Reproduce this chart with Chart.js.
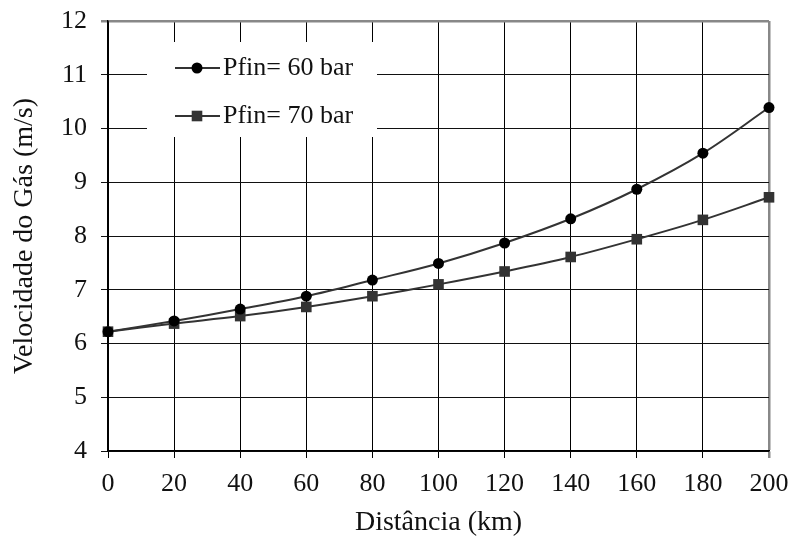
<!DOCTYPE html>
<html>
<head>
<meta charset="utf-8">
<script src="https://cdn.jsdelivr.net/npm/chart.js@4.4.1/dist/chart.umd.min.js"></script>
<style>
html,body{margin:0;padding:0;background:#fff;}
#wrap{width:793px;height:547px;position:relative;}
</style>
</head>
<body>
<div id="wrap"><canvas id="c" width="793" height="547"></canvas></div>
<script>
const distancias = [0, 20, 40, 60, 80, 100, 120, 140, 160, 180, 200];
const pfin60 = [6.22, 6.42, 6.64, 6.88, 7.18, 7.49, 7.87, 8.32, 8.87, 9.54, 10.39];
const pfin70 = [6.22, 6.37, 6.51, 6.68, 6.88, 7.10, 7.34, 7.61, 7.94, 8.30, 8.72];
const serieLabels = ['Pfin= 60 bar', 'Pfin= 70 bar'];
const xTitle = 'Distância (km)';
const yTitle = 'Velocidade do Gás (m/s)';

const FONT = 'Liberation Serif, Times New Roman, serif';
Chart.defaults.font.family = FONT;
Chart.defaults.color = '#111';

const toPts = arr => arr.map((v, i) => ({x: distancias[i], y: v}));

function zeroPad(s) {
  s.paddingTop = 0; s.paddingBottom = 0; s.paddingLeft = 0; s.paddingRight = 0;
}

const legendPlugin = {
  id: 'boxLegend',
  afterDatasetsDraw(chart) {
    const ctx = chart.ctx;
    ctx.save();
    ctx.fillStyle = '#fff';
    ctx.fillRect(147, 42, 230, 95);
    const rows = [68, 116];
    chart.data.datasets.forEach((ds, i) => {
      const y = rows[i];
      ctx.strokeStyle = ds.borderColor;
      ctx.lineWidth = ds.borderWidth;
      ctx.beginPath();
      ctx.moveTo(175, y);
      ctx.lineTo(220, y);
      ctx.stroke();
      ctx.fillStyle = ds.pointBackgroundColor;
      ctx.beginPath();
      if (ds.pointStyle === 'circle') {
        ctx.arc(197, y, ds.pointRadius, 0, Math.PI * 2);
      } else {
        const s = Math.SQRT1_2 * ds.pointRadius;
        ctx.rect(197 - s, y - s, 2 * s, 2 * s);
      }
      ctx.fill();
      ctx.fillStyle = '#111';
      ctx.font = '26px ' + FONT;
      ctx.textBaseline = 'middle';
      ctx.textAlign = 'left';
      ctx.fillText(ds.label, 223, y);
    });
    ctx.restore();
  }
};

new Chart(document.getElementById('c'), {
  type: 'line',
  data: {
    datasets: [
      {
        label: serieLabels[0],
        data: toPts(pfin60),
        borderColor: '#333',
        borderWidth: 2,
        pointStyle: 'circle',
        pointRadius: 5.5,
        pointBackgroundColor: '#000',
        pointBorderColor: '#000',
        pointBorderWidth: 0,
        tension: 0.35,
        clip: false
      },
      {
        label: serieLabels[1],
        data: toPts(pfin70),
        borderColor: '#333',
        borderWidth: 2,
        pointStyle: 'rect',
        pointRadius: 7.5,
        pointBackgroundColor: '#333',
        pointBorderColor: '#333',
        pointBorderWidth: 0,
        tension: 0.35,
        clip: false
      }
    ]
  },
  options: {
    responsive: false,
    animation: false,
    layout: {padding: {top: 21, right: 24, left: 0, bottom: 0}},
    plugins: {legend: {display: false}, tooltip: {enabled: false}},
    scales: {
      x: {
        type: 'linear',
        min: 0, max: 200,
        afterFit(s) { s.height = 96; zeroPad(s); },
        ticks: {stepSize: 20, font: {size: 26}, color: '#111', padding: 11, maxRotation: 0},
        grid: {
          color: c => c.tick && c.tick.value === 200 ? '#888' : '#000',
          lineWidth: c => c.tick && c.tick.value === 200 ? 2.5 : 1,
          tickLength: 7,
          drawTicks: true
        },
        border: {display: true, color: '#000', width: 1.5},
        title: {display: true, text: xTitle, font: {size: 28}, color: '#111', padding: {top: 0, bottom: 8}}
      },
      y: {
        min: 4, max: 12,
        afterFit(s) { s.width = 108; zeroPad(s); },
        ticks: {stepSize: 1, font: {size: 26}, color: '#111', padding: 14},
        grid: {
          color: c => c.tick && c.tick.value === 12 ? '#888' : '#111',
          lineWidth: c => c.tick && c.tick.value === 12 ? 2.5 : 1,
          tickLength: 7
        },
        border: {display: true, color: '#000', width: 1.5},
        title: {display: true, text: yTitle, font: {size: 28}, color: '#111', padding: {top: 8, bottom: 0}}
      }
    }
  },
  plugins: [legendPlugin]
});
</script>
</body>
</html>
